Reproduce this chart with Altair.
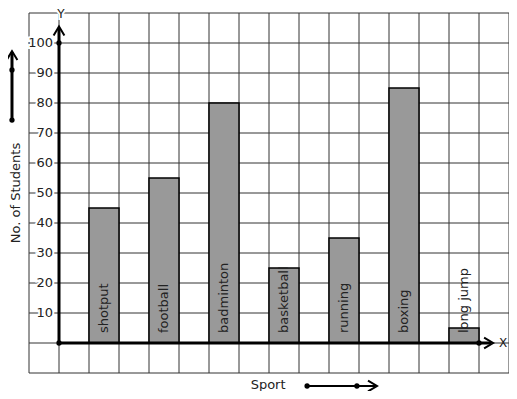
import altair as alt
import pandas as pd

# ---- data ----
sports = ["shotput", "football", "badminton", "basketball", "running", "boxing", "long jump"]
students = [45, 55, 80, 25, 35, 85, 5]
y_tick_values = [10, 20, 30, 40, 50, 60, 70, 80, 90, 100]
x_grid_values = list(range(-1, 16))
y_grid_values = list(range(-10, 111, 10))

FONT = "DejaVu Sans"
xs = alt.Scale(domain=[-1, 15], nice=False, zero=False)
ys = alt.Scale(domain=[-10, 110], nice=False, zero=False)


def X(f):
    return alt.X(f, type="quantitative", scale=xs, axis=None)


def Y(f):
    return alt.Y(f, type="quantitative", scale=ys, axis=None)


bars_df = pd.DataFrame({
    "sport": sports,
    "students": students,
    "slot": [2 * i + 1 for i in range(len(sports))],
})
bars_df["slot_end"] = bars_df["slot"] + 1
bars_df["mid"] = bars_df["slot"] + 0.5
bars_df["zero"] = 0

vgrid = alt.Chart(pd.DataFrame({"g": x_grid_values})).mark_rule(
    color="#333", strokeWidth=1
).encode(x=X("g"), y=alt.value(0), y2=alt.value(360))

hgrid = alt.Chart(pd.DataFrame({"g": y_grid_values})).mark_rule(
    color="#333", strokeWidth=1
).encode(y=Y("g"), x=alt.value(0), x2=alt.value(480))

bars = alt.Chart(bars_df).mark_rect(
    fill="#999999", stroke="black", strokeWidth=1.5
).encode(x=X("slot"), x2="slot_end", y=Y("zero"), y2="students")

bar_text = alt.Chart(bars_df).mark_text(
    angle=270, align="left", baseline="middle", dx=10, fontSize=13, font=FONT, color="#222"
).encode(x=X("mid"), y=Y("zero"), text="sport:N")

ylab_df = pd.DataFrame({"v": y_tick_values, "lx": -0.2})
ylab_halo = alt.Chart(ylab_df).mark_text(
    align="right", baseline="middle", fontSize=13, font=FONT, stroke="white", strokeWidth=4, fill="white"
).encode(x=X("lx"), y=Y("v"), text="v:Q")
ylab = alt.Chart(ylab_df).mark_text(
    align="right", baseline="middle", fontSize=13, font=FONT, color="#222"
).encode(x=X("lx"), y=Y("v"), text="v:Q")

# arrows and axis lines (annotation geometry)
seg_df = pd.DataFrame({
    "x": [0, 0, -1.567, 8.27],
    "x2": [0, 14.4, -1.567, 10.55],
    "y": [0, 0, 74.3, -14.33],
    "y2": [105, 0, 97, -14.33],
    "w": [3, 3, 3, 2],
})
segs = alt.Chart(seg_df).mark_rule(color="black").encode(
    x=X("x"), x2="x2", y=Y("y"), y2="y2", strokeWidth=alt.StrokeWidth("w:Q", scale=None)
)

dot_df = pd.DataFrame({
    "x": [0, 0, 14, -1.567, -1.567, 8.27, 9.93],
    "y": [0, 100, 0, 91, 74.3, -14.33, -14.33],
})
dots = alt.Chart(dot_df).mark_point(filled=True, color="black", size=28, opacity=1).encode(
    x=X("x"), y=Y("y")
)

chev_df = pd.DataFrame({
    "x": [0, 14.47, -1.567, 10.6],
    "y": [105.5, 0, 97.3, -14.33],
    "a": [0, 90, 0, 90],
})
chevs = alt.Chart(chev_df).mark_point(
    shape="M-0.6,1L0,0L0.6,1", filled=False, color="black", strokeWidth=2, size=324, opacity=1
).encode(x=X("x"), y=Y("y"), angle=alt.Angle("a:Q", scale=None))

xy_df = pd.DataFrame({"t": ["Y"], "x": [0.067], "y": [109.8]})
y_halo = alt.Chart(xy_df).mark_text(
    fontSize=12, font=FONT, stroke="white", strokeWidth=4, fill="white", baseline="middle"
).encode(x=X("x"), y=Y("y"), text="t:N")
y_lab = alt.Chart(xy_df).mark_text(fontSize=12, font=FONT, color="#222", baseline="middle").encode(
    x=X("x"), y=Y("y"), text="t:N"
)
x_lab = alt.Chart(pd.DataFrame({"t": ["X"], "x": [14.67], "y": [0]})).mark_text(
    fontSize=12, font=FONT, color="#222", align="left", baseline="middle"
).encode(x=X("x"), y=Y("y"), text="t:N")

sport_lab = alt.Chart(pd.DataFrame({"t": ["Sport"], "x": [6.97], "y": [-14]})).mark_text(
    fontSize=13, font=FONT, color="#222", baseline="middle"
).encode(x=X("x"), y=Y("y"), text="t:N")

stud_lab = alt.Chart(pd.DataFrame({"t": ["No. of Students"], "x": [-1.44], "y": [50]})).mark_text(
    fontSize=13, font=FONT, color="#222", baseline="middle", angle=270
).encode(x=X("x"), y=Y("y"), text="t:N")

chart = alt.layer(
    vgrid, hgrid, bars, bar_text, ylab_halo, ylab, segs, dots, chevs,
    y_halo, y_lab, x_lab, sport_lab, stud_lab
).properties(
    width=480, height=360, autosize="none",
    padding={"left": 21, "top": 5, "right": 0, "bottom": 18},
    background="white",
).configure_view(stroke=None)

chart.save("out.html", embed_options={"renderer": "svg", "actions": False})
